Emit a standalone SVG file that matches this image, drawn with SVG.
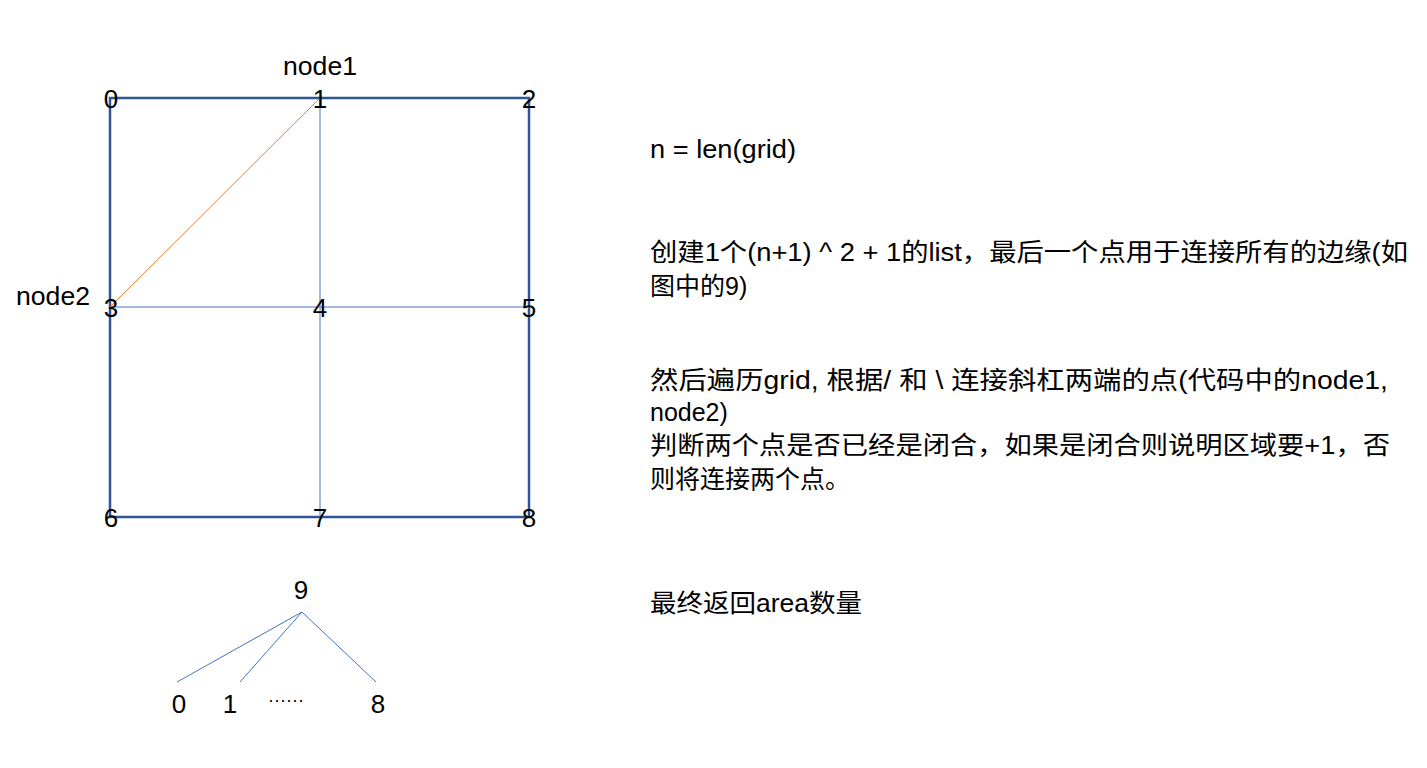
<svg xmlns="http://www.w3.org/2000/svg" width="1427" height="768" viewBox="0 0 1427 768">
<style>
.num{font-family:"Liberation Sans","Noto Sans CJK SC",sans-serif;font-size:26px;fill:#000;text-anchor:middle}
.lbl{font-family:"Liberation Sans","Noto Sans CJK SC",sans-serif;font-size:25px;fill:#000}
.txt{font-family:"Liberation Sans","Noto Sans CJK SC",sans-serif;font-size:25px;fill:#000}
.outer{stroke:#2F5597;stroke-width:2.5;fill:none}
.inner{stroke:#4472C4;stroke-width:1;fill:none}
.diag{stroke:#ED7D31;stroke-width:1;fill:none}
</style>
<rect width="1427" height="768" fill="#fff"/>
<g id="connectors">
<rect class="outer" x="110" y="98" width="419" height="419"/>
<line class="inner" x1="320" y1="98" x2="320" y2="517"/>
<line class="inner" x1="110" y1="307" x2="529" y2="307"/>
<line class="diag" x1="320" y1="98" x2="110" y2="307"/>
<line class="inner" x1="302" y1="612" x2="177" y2="682"/>
<line class="inner" x1="302" y1="612" x2="240" y2="682"/>
<line class="inner" x1="302" y1="612" x2="376" y2="682"/>
</g>
<g id="n0"><text class="num" x="111" y="108">0</text></g>
<g id="n1"><text class="num" x="320" y="108">1</text></g>
<g id="n2"><text class="num" x="529" y="108">2</text></g>
<g id="n3"><text class="num" x="111" y="317">3</text></g>
<g id="n4"><text class="num" x="320" y="317">4</text></g>
<g id="n5"><text class="num" x="529" y="317">5</text></g>
<g id="n6"><text class="num" x="111" y="527">6</text></g>
<g id="n7"><text class="num" x="320" y="527">7</text></g>
<g id="n8"><text class="num" x="529" y="527">8</text></g>
<g id="node1"><text class="lbl" x="283" y="75" textLength="74" lengthAdjust="spacingAndGlyphs">node1</text></g>
<g id="node2"><text class="lbl" x="16" y="305" textLength="74" lengthAdjust="spacingAndGlyphs">node2</text></g>
<g id="t9"><text class="num" x="301" y="599">9</text></g>
<g id="t0"><text class="num" x="179" y="713">0</text></g>
<g id="t1"><text class="num" x="230" y="713">1</text></g>
<g id="tdots"><text class="num" x="286" y="706" style="font-size:18px">······</text></g>
<g id="t8"><text class="num" x="378" y="713">8</text></g>
<g id="desc">
<text class="txt" x="650" y="158" textLength="146" lengthAdjust="spacingAndGlyphs">n = len(grid)</text>
<text class="txt" x="650" y="261" textLength="758" lengthAdjust="spacingAndGlyphs">创建1个(n+1) ^ 2 + 1的list，最后一个点用于连接所有的边缘(如</text>
<text class="txt" x="650" y="295">图中的9)</text>
<text class="txt" x="650" y="389" textLength="738" lengthAdjust="spacingAndGlyphs">然后遍历grid, 根据/ 和 \ 连接斜杠两端的点(代码中的node1,</text>
<text class="txt" x="650" y="421">node2)</text>
<text class="txt" x="650" y="454" textLength="740" lengthAdjust="spacingAndGlyphs">判断两个点是否已经是闭合，如果是闭合则说明区域要+1，否</text>
<text class="txt" x="650" y="488">则将连接两个点。</text>
<text class="txt" x="650" y="612" textLength="212" lengthAdjust="spacingAndGlyphs">最终返回area数量</text>
</g>
</svg>
